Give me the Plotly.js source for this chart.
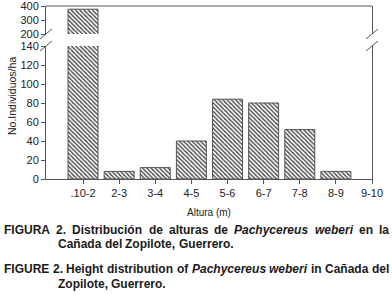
<!DOCTYPE html>
<html><head><meta charset="utf-8">
<script src="https://cdn.plot.ly/plotly-3.0.1.min.js"></script>
<style>html,body{margin:0;padding:0;background:#fff}#c{width:392px;height:295px}</style>
</head><body><div id="c"></div><script>
const categories = ['.10-2','2-3','3-4','4-5','5-6','6-7','7-8','8-9','9-10'];
const density = [378, 8, 12, 40, 84, 80, 52, 8, 0];
const lowerTicks = [0,20,40,60,80,100,120,140];
const upperTicks = [200,300,400];
const xTitle = 'Altura (m)';
const yTitle = 'No.Individuos/ha';
const captionLines = [
  'FIGURA 2. Distribución de alturas de <i>Pachycereus weberi</i> en la',
  'Cañada del Zopilote, Guerrero.',
  'FIGURE 2. Height distribution of <i>Pachycereus weberi</i> in Cañada del',
  'Zopilote, Guerrero.'
];

const W=392,H=295,L=46,R=20,T=6,B=116;
const pw=W-L-R, ph=H-T-B;
const px=x=>(x-L)/pw, py=y=>(H-B-y)/ph;
const lowDom=[0,py(46)], upDom=[py(34),1];
const ax='#555';
const FAM='Liberation Sans, Arial, sans-serif';
const barStyle={color:'white',line:{color:'#555',width:density.map(v=>v>0?1:0)},pattern:{shape:'\\',fgcolor:'#444',bgcolor:'white',size:3,solidity:0.45}};
const traces=[
 {type:'bar',x:categories,y:density,xaxis:'x',yaxis:'y',marker:barStyle,hoverinfo:'none'},
 {type:'bar',x:categories,y:density,xaxis:'x',yaxis:'y2',marker:barStyle,hoverinfo:'none'}
];
const tf={family:FAM,size:11,color:'#222'};
function brk(xa,ya){return {type:'line',xref:'paper',yref:'paper',xsizemode:'pixel',ysizemode:'pixel',xanchor:xa,yanchor:ya,x0:-6,x1:6,y0:-5,y1:5,line:{color:ax,width:1}};}

const CAP_SIZE=12;
const capFont={family:FAM,size:CAP_SIZE,color:'#1a1a1a'};
const ctx=document.createElement('canvas').getContext('2d');
function words(line){
  const out=[];
  line.split(/(<i>.*?<\/i>)/).forEach(seg=>{
    const it=seg.startsWith('<i>');
    seg.replace(/<\/?i>/g,'').split(' ').filter(w=>w).forEach(w=>out.push({w,it}));
  });
  return out;
}
function measure(wd){ctx.font=(wd.it?'italic ':'')+'bold '+CAP_SIZE+'px "Liberation Sans"';return ctx.measureText(wd.w).width;}
const annotations=[
 {text:yTitle,xref:'paper',yref:'paper',x:px(12),y:py(96),xanchor:'center',yanchor:'middle',textangle:-90,showarrow:false,font:{family:FAM,size:10.5,color:'#222'}}
];
function addLine(line,x0,x1,y,justify){
  const ws=words(line);
  const widths=ws.map(measure);
  const sp=measure({w:' ',it:false});
  const total=widths.reduce((a,b)=>a+b,0);
  const gap=justify?(x1-x0-total)/(ws.length-1):sp;
  let x=x0;
  ws.forEach((wd,i)=>{
    annotations.push({text:'<b>'+(wd.it?'<i>'+wd.w+'</i>':wd.w)+'</b>',xref:'paper',yref:'paper',x:px(x),y:py(y),xanchor:'left',yanchor:'middle',showarrow:false,font:capFont,borderpad:0});
    x+=widths[i]+gap;
  });
}
addLine(captionLines[0],3,388,230,true);
addLine(captionLines[1],57,388,244,false);
addLine(captionLines[2],3,388,269,true);
addLine(captionLines[3],57,388,284,false);

const layout={
 width:W,height:H,margin:{l:L,r:R,t:T,b:B},paper_bgcolor:'white',plot_bgcolor:'white',
 showlegend:false,bargap:0.17,
 xaxis:{range:[-1.025,8],type:'category',showline:true,linecolor:ax,linewidth:1,ticks:'outside',ticklen:4,tickcolor:ax,tickfont:tf,showgrid:false,zeroline:false,anchor:'y',ticklabeloverflow:'allow',
   title:{text:xTitle,font:{family:FAM,size:10,color:'#222'},standoff:10}},
 yaxis:{domain:lowDom,range:[0,140],tickvals:lowerTicks,showline:true,mirror:true,linecolor:ax,linewidth:1,ticks:'outside',ticklen:4,tickcolor:ax,tickfont:tf,showgrid:false,zeroline:false,anchor:'x',ticklabeloverflow:'allow'},
 yaxis2:{domain:upDom,range:[200,401],tickvals:upperTicks,showline:true,mirror:true,linecolor:ax,linewidth:1,ticks:'outside',ticklen:4,tickcolor:ax,tickfont:tf,showgrid:false,zeroline:false,anchor:'x',ticklabeloverflow:'allow'},
 shapes:[
  {type:'line',xref:'paper',yref:'paper',x0:0,x1:1,y0:1,y1:1,line:{color:ax,width:1}},
  brk(0,upDom[0]),brk(0,lowDom[1]),brk(1,upDom[0]),brk(1,lowDom[1])
 ],
 annotations:annotations
};
Plotly.newPlot('c',traces,layout,{staticPlot:true,displayModeBar:false});
</script></body></html>
